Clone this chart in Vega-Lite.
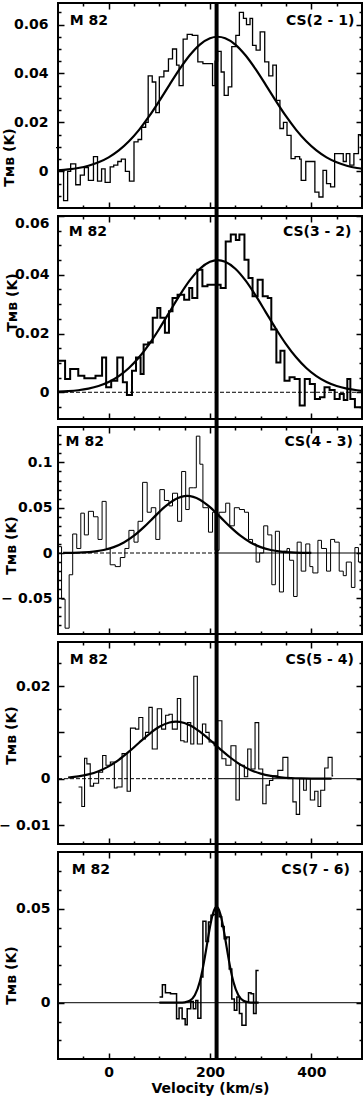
{
  "$schema": "https://vega.github.io/schema/vega-lite/v6.json",
  "padding": {"left": -3, "top": 0, "right": 0, "bottom": 0},
  "spacing": 8,
  "bounds": "flush",
  "config": {
    "font": "DejaVu Sans",
    "view": {"stroke": "black", "strokeWidth": 2},
    "axis": {"domain": false, "grid": false, "minExtent": 0, "tickColor": "black", "tickWidth": 1.5, "labelFont": "DejaVu Sans", "labelFontWeight": "bold", "labelFontSize": 14, "labelColor": "black", "titleFont": "DejaVu Sans", "titleFontWeight": "bold", "titleFontSize": 14, "titleColor": "black"},
    "line": {"color": "black"},
    "rule": {"color": "black"},
    "text": {"color": "black"}
  },
  "datasets": {
    "h1": [{"v":-104,"T":0.0097},{"v":-100,"T":0.0},{"v":-89,"T":-0.012},{"v":-81,"T":0.0},{"v":-75,"T":0.003},{"v":-65,"T":-0.0055},{"v":-56,"T":-0.0016},{"v":-48,"T":0.0015},{"v":-40,"T":-0.0037},{"v":-30,"T":0.006},{"v":-22,"T":-0.004},{"v":-14,"T":0.001},{"v":-7,"T":-0.0045},{"v":3,"T":0.0018},{"v":10,"T":0.0025},{"v":18,"T":0.004},{"v":25,"T":0.005},{"v":33,"T":0.0},{"v":41,"T":-0.004},{"v":50,"T":0.012},{"v":58,"T":0.013},{"v":65,"T":0.018},{"v":73,"T":0.02},{"v":78,"T":0.039},{"v":86,"T":0.0365},{"v":93,"T":0.024},{"v":100,"T":0.0386},{"v":109,"T":0.041},{"v":118,"T":0.046},{"v":126,"T":0.05},{"v":134,"T":0.0434},{"v":139,"T":0.035},{"v":147,"T":0.054},{"v":155,"T":0.056},{"v":165,"T":0.0556},{"v":176,"T":0.0447},{"v":186,"T":0.044},{"v":197,"T":0.044},{"v":205,"T":0.035},{"v":210,"T":0.045},{"v":215,"T":0.049},{"v":222,"T":0.0406},{"v":228,"T":0.031},{"v":236,"T":0.0345},{"v":243,"T":0.051},{"v":251,"T":0.0556},{"v":258,"T":0.065},{"v":266,"T":0.0625},{"v":272,"T":0.06},{"v":279,"T":0.0625},{"v":284,"T":0.0515},{"v":291,"T":0.0495},{"v":299,"T":0.057},{"v":308,"T":0.0447},{"v":316,"T":0.039},{"v":324,"T":0.0434},{"v":331,"T":0.029},{"v":338,"T":0.0175},{"v":345,"T":0.02},{"v":352,"T":0.0147},{"v":360,"T":0.0052},{"v":368,"T":0.006},{"v":377,"T":0.005},{"v":380,"T":-0.0037},{"v":389,"T":0.004},{"v":397,"T":0.004},{"v":407,"T":-0.0085},{"v":415,"T":-0.0105},{"v":423,"T":0.0004},{"v":430,"T":-0.005},{"v":438,"T":-0.0064},{"v":446,"T":0.0072},{"v":453,"T":0.0072},{"v":463,"T":0.004},{"v":469,"T":0.0072},{"v":476,"T":0.0025},{"v":484,"T":0.0072},{"v":493,"T":0.015},{"v":500,"T":0.015}],
    "g1": [{"v":-100,"T":0.000425},{"v":-80,"T":0.000773},{"v":-60,"T":0.00135},{"v":-40,"T":0.00227},{"v":-20,"T":0.00367},{"v":0,"T":0.0057},{"v":20,"T":0.00853},{"v":40,"T":0.01226},{"v":60,"T":0.01694},{"v":80,"T":0.02251},{"v":100,"T":0.02877},{"v":120,"T":0.03534},{"v":140,"T":0.04174},{"v":160,"T":0.04742},{"v":180,"T":0.0518},{"v":200,"T":0.0544},{"v":215,"T":0.055},{"v":230,"T":0.0544},{"v":250,"T":0.0518},{"v":270,"T":0.04742},{"v":290,"T":0.04174},{"v":310,"T":0.03534},{"v":330,"T":0.02877},{"v":350,"T":0.02251},{"v":370,"T":0.01694},{"v":390,"T":0.01226},{"v":410,"T":0.00853},{"v":430,"T":0.0057},{"v":450,"T":0.00367},{"v":470,"T":0.00227},{"v":490,"T":0.00135},{"v":500,"T":0.00103}],
    "h2": [{"v":-101,"T":0.0107},{"v":-86,"T":0.0045},{"v":-76,"T":0.0079},{"v":-60,"T":0.0056},{"v":-48,"T":0.0048},{"v":-26,"T":0.0056},{"v":-13,"T":0.0118},{"v":-5,"T":0.0017},{"v":5,"T":0.0039},{"v":17,"T":0.0118},{"v":28,"T":0.0034},{"v":36,"T":-0.0009},{"v":46,"T":0.0073},{"v":54,"T":0.0118},{"v":63,"T":0.0062},{"v":69,"T":0.0163},{"v":78,"T":0.0169},{"v":87,"T":0.0254},{"v":96,"T":0.0287},{"v":102,"T":0.0254},{"v":111,"T":0.0203},{"v":119,"T":0.0276},{"v":126,"T":0.0321},{"v":136,"T":0.0332},{"v":149,"T":0.0315},{"v":159,"T":0.0355},{"v":165,"T":0.0321},{"v":175,"T":0.0417},{"v":185,"T":0.0361},{"v":195,"T":0.0366},{"v":210,"T":0.0366},{"v":221,"T":0.0355},{"v":231,"T":0.0513},{"v":241,"T":0.0537},{"v":251,"T":0.0518},{"v":258,"T":0.0537},{"v":268,"T":0.0451},{"v":276,"T":0.0389},{"v":284,"T":0.0327},{"v":294,"T":0.0383},{"v":304,"T":0.0327},{"v":314,"T":0.0321},{"v":321,"T":0.0214},{"v":331,"T":0.0101},{"v":339,"T":0.0141},{"v":347,"T":0.0039},{"v":357,"T":0.0051},{"v":367,"T":0.0045},{"v":377,"T":-0.0045},{"v":387,"T":0.0045},{"v":397,"T":0.0028},{"v":407,"T":-0.0023},{"v":417,"T":-0.0017},{"v":426,"T":0.0017},{"v":436,"T":0.0008},{"v":446,"T":-0.0023},{"v":456,"T":-0.0006},{"v":464,"T":-0.0026},{"v":471,"T":0.0045},{"v":477,"T":-0.0023},{"v":486,"T":-0.0051},{"v":500,"T":-0.0051}],
    "g2": [{"v":-100,"T":0.000185},{"v":-80,"T":0.000363},{"v":-60,"T":0.000682},{"v":-40,"T":0.00123},{"v":-20,"T":0.00211},{"v":0,"T":0.00347},{"v":20,"T":0.00547},{"v":40,"T":0.00825},{"v":60,"T":0.01189},{"v":80,"T":0.01639},{"v":100,"T":0.02163},{"v":120,"T":0.02729},{"v":140,"T":0.03295},{"v":160,"T":0.03806},{"v":180,"T":0.04205},{"v":200,"T":0.04444},{"v":215,"T":0.045},{"v":230,"T":0.04444},{"v":250,"T":0.04205},{"v":270,"T":0.03806},{"v":290,"T":0.03295},{"v":310,"T":0.02729},{"v":330,"T":0.02163},{"v":350,"T":0.01639},{"v":370,"T":0.01189},{"v":390,"T":0.00825},{"v":410,"T":0.00547},{"v":430,"T":0.00347},{"v":450,"T":0.00211},{"v":470,"T":0.00123},{"v":490,"T":0.000682},{"v":500,"T":0.0005}],
    "h3": [{"v":-101,"T":0.007},{"v":-93,"T":-0.051},{"v":-86,"T":-0.083},{"v":-78,"T":-0.024},{"v":-71,"T":0.021},{"v":-63,"T":0.005},{"v":-55,"T":0.044},{"v":-48,"T":0.02},{"v":-40,"T":0.046},{"v":-30,"T":0.04},{"v":-21,"T":0.015},{"v":-13,"T":0.057},{"v":-5,"T":0.005},{"v":3,"T":-0.013},{"v":13,"T":-0.015},{"v":23,"T":-0.005},{"v":32,"T":0.005},{"v":40,"T":0.025},{"v":50,"T":0.012},{"v":58,"T":0.035},{"v":67,"T":0.078},{"v":76,"T":0.045},{"v":84,"T":0.05},{"v":93,"T":0.015},{"v":101,"T":0.07},{"v":110,"T":0.058},{"v":119,"T":0.052},{"v":126,"T":0.066},{"v":136,"T":0.035},{"v":144,"T":0.09},{"v":152,"T":0.048},{"v":159,"T":0.072},{"v":167,"T":0.072},{"v":173,"T":0.129},{"v":180,"T":0.098},{"v":186,"T":0.05},{"v":197,"T":0.023},{"v":205,"T":0.045},{"v":210,"T":0.003},{"v":218,"T":0.045},{"v":231,"T":0.055},{"v":239,"T":0.03},{"v":248,"T":0.05},{"v":258,"T":0.048},{"v":268,"T":0.045},{"v":276,"T":0.015},{"v":284,"T":0.01},{"v":291,"T":-0.01},{"v":298,"T":0.0},{"v":306,"T":0.03},{"v":314,"T":0.02},{"v":322,"T":-0.035},{"v":329,"T":0.024},{"v":337,"T":-0.043},{"v":345,"T":0.002},{"v":352,"T":0.005},{"v":357,"T":-0.008},{"v":365,"T":-0.048},{"v":372,"T":0.012},{"v":380,"T":-0.02},{"v":389,"T":0.01},{"v":397,"T":-0.015},{"v":403,"T":-0.022},{"v":413,"T":0.014},{"v":420,"T":0.005},{"v":430,"T":-0.02},{"v":438,"T":0.015},{"v":446,"T":0.012},{"v":455,"T":-0.02},{"v":463,"T":-0.025},{"v":469,"T":-0.01},{"v":479,"T":-0.038},{"v":486,"T":0.006},{"v":493,"T":-0.01},{"v":500,"T":-0.01}],
    "g3": [{"v":-90,"T":0.0001},{"v":-70,"T":0.00026},{"v":-50,"T":0.00067},{"v":-30,"T":0.00156},{"v":-10,"T":0.00332},{"v":10,"T":0.00649},{"v":30,"T":0.01163},{"v":50,"T":0.01913},{"v":70,"T":0.02884},{"v":90,"T":0.0399},{"v":110,"T":0.05061},{"v":130,"T":0.05888},{"v":155,"T":0.063},{"v":180,"T":0.05888},{"v":200,"T":0.05061},{"v":220,"T":0.0399},{"v":240,"T":0.02884},{"v":260,"T":0.01913},{"v":280,"T":0.01163},{"v":300,"T":0.00649},{"v":320,"T":0.00332},{"v":340,"T":0.00156},{"v":360,"T":0.00067},{"v":380,"T":0.00026},{"v":400,"T":0.0001}],
    "h4": [{"v":-59.5,"T":-0.0018},{"v":-53,"T":-0.006},{"v":-47.6,"T":0.0044},{"v":-43,"T":0.0032},{"v":-36.4,"T":-0.0016},{"v":-29.8,"T":-0.001},{"v":-19.8,"T":0.0014},{"v":-11.9,"T":0.005},{"v":-5.3,"T":0.0029},{"v":3.3,"T":0.0036},{"v":11.2,"T":-0.002},{"v":16.5,"T":-0.0018},{"v":26.4,"T":0.0054},{"v":36.4,"T":-0.0027},{"v":43,"T":0.0109},{"v":52.9,"T":0.0107},{"v":59.5,"T":0.0132},{"v":67.4,"T":0.0086},{"v":72.7,"T":0.01},{"v":79.3,"T":0.0154},{"v":86,"T":0.0064},{"v":95.9,"T":0.0151},{"v":104.5,"T":0.0107},{"v":112.4,"T":0.0137},{"v":119,"T":0.0139},{"v":125.6,"T":0.0107},{"v":135.5,"T":0.0173},{"v":142.1,"T":0.0082},{"v":148.8,"T":0.0079},{"v":155.4,"T":0.0121},{"v":162,"T":0.0075},{"v":168,"T":0.0221},{"v":175,"T":0.0075},{"v":185.1,"T":0.0118},{"v":191.7,"T":0.01},{"v":198.3,"T":0.0079},{"v":208.3,"T":0.0071},{"v":214.9,"T":0.0125},{"v":223.5,"T":0.0043},{"v":231.4,"T":0.0029},{"v":241.3,"T":0.0071},{"v":251.2,"T":-0.0046},{"v":257.9,"T":0.0029},{"v":267.8,"T":0.0004},{"v":274.4,"T":0.0064},{"v":281,"T":0.0021},{"v":288.9,"T":0.0121},{"v":296.2,"T":0.0021},{"v":304.1,"T":-0.0054},{"v":310.7,"T":-0.0014},{"v":317.4,"T":-0.0004},{"v":324,"T":0.0006},{"v":333.9,"T":0.0018},{"v":343.8,"T":0.0046},{"v":353.7,"T":0.0},{"v":363.6,"T":-0.005},{"v":370.2,"T":-0.0077},{"v":376.9,"T":0.0},{"v":384.8,"T":-0.0025},{"v":390.1,"T":0.0},{"v":398,"T":-0.0046},{"v":406.6,"T":-0.0027},{"v":413.2,"T":-0.006},{"v":418.5,"T":-0.0025},{"v":426.4,"T":0.0023},{"v":433.1,"T":0.0046},{"v":441,"T":0.0006},{"v":443,"T":0.0006}],
    "g4": [{"v":-80,"T":0.000242},{"v":-60,"T":0.00049},{"v":-40,"T":0.00092},{"v":-20,"T":0.00162},{"v":0,"T":0.00266},{"v":20,"T":0.00407},{"v":40,"T":0.00582},{"v":60,"T":0.00776},{"v":80,"T":0.00964},{"v":100,"T":0.01119},{"v":120,"T":0.01212},{"v":133,"T":0.0123},{"v":140,"T":0.01225},{"v":160,"T":0.01155},{"v":180,"T":0.01016},{"v":200,"T":0.00834},{"v":220,"T":0.00639},{"v":240,"T":0.00457},{"v":260,"T":0.00304},{"v":280,"T":0.00189},{"v":300,"T":0.0011},{"v":320,"T":0.0006},{"v":340,"T":0.0003},{"v":360,"T":0.00014},{"v":380,"T":0.00006},{"v":400,"T":0.00002},{"v":440,"T":0.0}],
    "h5": [{"v":100.5,"T":0.003},{"v":106,"T":0.0096},{"v":112,"T":0.0053},{"v":122,"T":0.0048},{"v":134,"T":-0.0085},{"v":139,"T":-0.0028},{"v":145,"T":-0.0085},{"v":151,"T":-0.0117},{"v":155,"T":-0.0032},{"v":162,"T":0.0007},{"v":167,"T":-0.0032},{"v":172,"T":0.0012},{"v":176,"T":-0.0082},{"v":182,"T":0.0137},{"v":186,"T":0.0433},{"v":192,"T":0.0326},{"v":197,"T":0.043},{"v":202,"T":0.0465},{"v":206,"T":0.047},{"v":212,"T":0.0493},{"v":218,"T":0.0457},{"v":223,"T":0.0406},{"v":228,"T":0.034},{"v":233,"T":0.035},{"v":238,"T":0.018},{"v":243,"T":0.002},{"v":248,"T":-0.004},{"v":253,"T":0.003},{"v":258,"T":-0.0058},{"v":263,"T":-0.012},{"v":271,"T":0.0004},{"v":276,"T":0.0053},{"v":281,"T":0.0048},{"v":286,"T":-0.0058},{"v":291,"T":0.0172},{"v":296,"T":0.0172}],
    "g5": [{"v":100,"T":0.0},{"v":140,"T":0.00004},{"v":150,"T":0.00021},{"v":160,"T":0.00104},{"v":170,"T":0.00394},{"v":180,"T":0.01129},{"v":185,"T":0.01722},{"v":190,"T":0.02451},{"v":195,"T":0.03256},{"v":200,"T":0.04036},{"v":205,"T":0.04668},{"v":210,"T":0.05037},{"v":213,"T":0.051},{"v":216,"T":0.05037},{"v":221,"T":0.04668},{"v":226,"T":0.04036},{"v":231,"T":0.03256},{"v":236,"T":0.02451},{"v":241,"T":0.01722},{"v":246,"T":0.01129},{"v":256,"T":0.00394},{"v":266,"T":0.00104},{"v":276,"T":0.00021},{"v":286,"T":0.00004},{"v":296,"T":0.0}]
  },
  "vconcat": [
    {
      "width": 304, "height": 205,
      "resolve": {"axis": {"x": "independent", "y": "independent"}},
      "layer": [
        {"data": {"name": "h1"}, "mark": {"type": "line", "interpolate": "step-after", "strokeWidth": 1.3},
         "encoding": {
           "x": {"field": "v", "type": "quantitative", "scale": {"domain": [-100, 500], "nice": false, "zero": false}, "axis": {"orient": "bottom", "values": [0, 200, 400], "labels": false, "tickSize": -6, "title": null}},
           "y": {"field": "T", "type": "quantitative", "scale": {"domain": [-0.015, 0.0688], "nice": false, "zero": false}, "axis": {"orient": "left", "values": [0, 0.02, 0.04, 0.06], "ticks": false, "format": "~g", "labelPadding": 10, "title": "Tᴍʙ (K)", "titleAngle": 270, "titleBaseline": "bottom", "titleAlign": "center", "titleX": -42, "titleY": 154}}}},
        {"data": {"name": "g1"}, "mark": {"type": "line", "interpolate": "monotone", "strokeWidth": 2.2},
         "encoding": {
           "x": {"field": "v", "type": "quantitative", "scale": {"domain": [-100, 500], "nice": false, "zero": false}, "axis": {"orient": "bottom", "values": [-50, 50, 100, 150, 250, 300, 350, 450], "labels": false, "tickSize": -3, "title": null}},
           "y": {"field": "T", "type": "quantitative", "scale": {"domain": [-0.015, 0.0688], "nice": false, "zero": false}, "axis": {"orient": "left", "values": [0, 0.02, 0.04, 0.06], "labels": false, "tickSize": -6, "title": null}}}},
        {"data": {"values": [{}]}, "mark": {"type": "rule", "strokeWidth": 4, "clip": false},
         "encoding": {
           "x": {"datum": 213, "type": "quantitative", "scale": {"domain": [-100, 500], "nice": false, "zero": false}, "axis": {"orient": "top", "values": [0, 200, 400], "labels": false, "tickSize": -6, "title": null}},
           "y": {"datum": 0.0688, "type": "quantitative", "scale": {"domain": [-0.015, 0.0688], "nice": false, "zero": false}, "axis": {"orient": "left", "values": [-0.01, -0.005, 0.005, 0.01, 0.015, 0.025, 0.03, 0.035, 0.045, 0.05, 0.055, 0.065], "labels": false, "tickSize": -3, "title": null}},
           "y2": {"datum": -0.0183}}},
        {"data": {"values": [{}]}, "mark": {"type": "text", "align": "left", "baseline": "middle", "fontSize": 14, "fontWeight": "bold"},
         "encoding": {
           "x": {"datum": -77, "type": "quantitative", "scale": {"domain": [-100, 500], "nice": false, "zero": false}, "axis": {"orient": "top", "values": [-50, 50, 100, 150, 250, 300, 350, 450], "labels": false, "tickSize": -3, "title": null}},
           "y": {"datum": 0.0614, "type": "quantitative", "scale": {"domain": [-0.015, 0.0688], "nice": false, "zero": false}, "axis": {"orient": "right", "values": [0, 0.02, 0.04, 0.06], "labels": false, "tickSize": -6, "title": null}},
           "text": {"value": "M 82"}}},
        {"data": {"values": [{}]}, "mark": {"type": "text", "align": "right", "baseline": "middle", "fontSize": 14, "fontWeight": "bold"},
         "encoding": {
           "x": {"datum": 485, "type": "quantitative", "scale": {"domain": [-100, 500], "nice": false, "zero": false}, "axis": null},
           "y": {"datum": 0.0614, "type": "quantitative", "scale": {"domain": [-0.015, 0.0688], "nice": false, "zero": false}, "axis": {"orient": "right", "values": [-0.01, -0.005, 0.005, 0.01, 0.015, 0.025, 0.03, 0.035, 0.045, 0.05, 0.055, 0.065], "labels": false, "tickSize": -3, "title": null}},
           "text": {"value": "CS(2 - 1)"}}}
      ]
    },
    {
      "width": 304, "height": 203,
      "resolve": {"axis": {"x": "independent", "y": "independent"}},
      "layer": [
        {"data": {"name": "h2"}, "mark": {"type": "line", "interpolate": "step-after", "strokeWidth": 2},
         "encoding": {
           "x": {"field": "v", "type": "quantitative", "scale": {"domain": [-100, 500], "nice": false, "zero": false}, "axis": {"orient": "bottom", "values": [0, 200, 400], "labels": false, "tickSize": -6, "title": null}},
           "y": {"field": "T", "type": "quantitative", "scale": {"domain": [-0.0091, 0.06], "nice": false, "zero": false}, "axis": {"orient": "left", "values": [0, 0.02, 0.04, 0.06], "ticks": false, "format": "~g", "labelFlush": true, "labelPadding": 9, "title": "Tᴍʙ (K)", "titleAngle": 270, "titleBaseline": "bottom", "titleAlign": "center", "titleX": -39, "titleY": 86}}}},
        {"data": {"name": "g2"}, "mark": {"type": "line", "interpolate": "monotone", "strokeWidth": 2.2},
         "encoding": {
           "x": {"field": "v", "type": "quantitative", "scale": {"domain": [-100, 500], "nice": false, "zero": false}, "axis": {"orient": "bottom", "values": [-50, 50, 100, 150, 250, 300, 350, 450], "labels": false, "tickSize": -3, "title": null}},
           "y": {"field": "T", "type": "quantitative", "scale": {"domain": [-0.0091, 0.06], "nice": false, "zero": false}, "axis": {"orient": "left", "values": [0, 0.02, 0.04, 0.06], "labels": false, "tickSize": -6, "title": null}}}},
        {"data": {"values": [{}]}, "mark": {"type": "rule", "strokeWidth": 1, "strokeDash": [4, 2]},
         "encoding": {
           "x": {"datum": -100, "type": "quantitative", "scale": {"domain": [-100, 500], "nice": false, "zero": false}, "axis": null},
           "x2": {"datum": 500},
           "y": {"datum": 0, "type": "quantitative", "scale": {"domain": [-0.0091, 0.06], "nice": false, "zero": false}, "axis": null}}},
        {"data": {"values": [{}]}, "mark": {"type": "rule", "strokeWidth": 4, "clip": false},
         "encoding": {
           "x": {"datum": 213, "type": "quantitative", "scale": {"domain": [-100, 500], "nice": false, "zero": false}, "axis": {"orient": "top", "values": [0, 200, 400], "labels": false, "tickSize": -6, "title": null}},
           "y": {"datum": 0.06, "type": "quantitative", "scale": {"domain": [-0.0091, 0.06], "nice": false, "zero": false}, "axis": {"orient": "left", "values": [-0.005, 0.005, 0.01, 0.015, 0.025, 0.03, 0.035, 0.045, 0.05, 0.055], "labels": false, "tickSize": -3, "title": null}},
           "y2": {"datum": -0.0118}}},
        {"data": {"values": [{}]}, "mark": {"type": "text", "align": "left", "baseline": "middle", "fontSize": 14, "fontWeight": "bold"},
         "encoding": {
           "x": {"datum": -79, "type": "quantitative", "scale": {"domain": [-100, 500], "nice": false, "zero": false}, "axis": {"orient": "top", "values": [-50, 50, 100, 150, 250, 300, 350, 450], "labels": false, "tickSize": -3, "title": null}},
           "y": {"datum": 0.0546, "type": "quantitative", "scale": {"domain": [-0.0091, 0.06], "nice": false, "zero": false}, "axis": {"orient": "right", "values": [0, 0.02, 0.04, 0.06], "labels": false, "tickSize": -6, "title": null}},
           "text": {"value": "M 82"}}},
        {"data": {"values": [{}]}, "mark": {"type": "text", "align": "right", "baseline": "middle", "fontSize": 14, "fontWeight": "bold"},
         "encoding": {
           "x": {"datum": 479, "type": "quantitative", "scale": {"domain": [-100, 500], "nice": false, "zero": false}, "axis": null},
           "y": {"datum": 0.0546, "type": "quantitative", "scale": {"domain": [-0.0091, 0.06], "nice": false, "zero": false}, "axis": {"orient": "right", "values": [-0.005, 0.005, 0.01, 0.015, 0.025, 0.03, 0.035, 0.045, 0.05, 0.055], "labels": false, "tickSize": -3, "title": null}},
           "text": {"value": "CS(3 - 2)"}}}
      ]
    },
    {
      "width": 304, "height": 207,
      "resolve": {"axis": {"x": "independent", "y": "independent"}},
      "layer": [
        {"data": {"name": "h3"}, "mark": {"type": "line", "interpolate": "step-after", "strokeWidth": 1},
         "encoding": {
           "x": {"field": "v", "type": "quantitative", "scale": {"domain": [-100, 500], "nice": false, "zero": false}, "axis": {"orient": "bottom", "values": [0, 200, 400], "labels": false, "tickSize": -6, "title": null}},
           "y": {"field": "T", "type": "quantitative", "scale": {"domain": [-0.0894, 0.1391], "nice": false, "zero": false}, "axis": {"orient": "left", "values": [-0.05, 0, 0.05, 0.1], "ticks": false, "format": "~g", "labelExpr": "replace(datum.label, '−', '− ')", "labelPadding": 6, "title": "Tᴍʙ (K)", "titleAngle": 270, "titleBaseline": "bottom", "titleAlign": "center", "titleX": -40, "titleY": 118}}}},
        {"data": {"name": "g3"}, "mark": {"type": "line", "interpolate": "monotone", "strokeWidth": 2.2},
         "encoding": {
           "x": {"field": "v", "type": "quantitative", "scale": {"domain": [-100, 500], "nice": false, "zero": false}, "axis": {"orient": "bottom", "values": [-50, 50, 100, 150, 250, 300, 350, 450], "labels": false, "tickSize": -3, "title": null}},
           "y": {"field": "T", "type": "quantitative", "scale": {"domain": [-0.0894, 0.1391], "nice": false, "zero": false}, "axis": {"orient": "left", "values": [-0.05, 0, 0.05, 0.1], "labels": false, "tickSize": -6, "title": null}}}},
        {"data": {"values": [{}]}, "mark": {"type": "rule", "strokeWidth": 1, "strokeDash": [4, 2]},
         "encoding": {
           "x": {"datum": -100, "type": "quantitative", "scale": {"domain": [-100, 500], "nice": false, "zero": false}, "axis": null},
           "x2": {"datum": 213},
           "y": {"datum": 0, "type": "quantitative", "scale": {"domain": [-0.0894, 0.1391], "nice": false, "zero": false}, "axis": null}}},
        {"data": {"values": [{}]}, "mark": {"type": "rule", "strokeWidth": 1},
         "encoding": {
           "x": {"datum": 213, "type": "quantitative", "scale": {"domain": [-100, 500], "nice": false, "zero": false}, "axis": null},
           "x2": {"datum": 500},
           "y": {"datum": 0, "type": "quantitative", "scale": {"domain": [-0.0894, 0.1391], "nice": false, "zero": false}, "axis": null}}},
        {"data": {"values": [{}]}, "mark": {"type": "rule", "strokeWidth": 4, "clip": false},
         "encoding": {
           "x": {"datum": 213, "type": "quantitative", "scale": {"domain": [-100, 500], "nice": false, "zero": false}, "axis": {"orient": "top", "values": [0, 200, 400], "labels": false, "tickSize": -6, "title": null}},
           "y": {"datum": 0.1391, "type": "quantitative", "scale": {"domain": [-0.0894, 0.1391], "nice": false, "zero": false}, "axis": {"orient": "left", "values": [-0.08, -0.07, -0.06, -0.04, -0.03, -0.02, -0.01, 0.01, 0.02, 0.03, 0.04, 0.06, 0.07, 0.08, 0.09, 0.11, 0.12, 0.13], "labels": false, "tickSize": -3, "title": null}},
           "y2": {"datum": -0.0982}}},
        {"data": {"values": [{}]}, "mark": {"type": "text", "align": "left", "baseline": "middle", "fontSize": 14, "fontWeight": "bold"},
         "encoding": {
           "x": {"datum": -85, "type": "quantitative", "scale": {"domain": [-100, 500], "nice": false, "zero": false}, "axis": {"orient": "top", "values": [-50, 50, 100, 150, 250, 300, 350, 450], "labels": false, "tickSize": -3, "title": null}},
           "y": {"datum": 0.1225, "type": "quantitative", "scale": {"domain": [-0.0894, 0.1391], "nice": false, "zero": false}, "axis": {"orient": "right", "values": [-0.05, 0, 0.05, 0.1], "labels": false, "tickSize": -6, "title": null}},
           "text": {"value": "M 82"}}},
        {"data": {"values": [{}]}, "mark": {"type": "text", "align": "right", "baseline": "middle", "fontSize": 14, "fontWeight": "bold"},
         "encoding": {
           "x": {"datum": 482, "type": "quantitative", "scale": {"domain": [-100, 500], "nice": false, "zero": false}, "axis": null},
           "y": {"datum": 0.1225, "type": "quantitative", "scale": {"domain": [-0.0894, 0.1391], "nice": false, "zero": false}, "axis": {"orient": "right", "values": [-0.08, -0.07, -0.06, -0.04, -0.03, -0.02, -0.01, 0.01, 0.02, 0.03, 0.04, 0.06, 0.07, 0.08, 0.09, 0.11, 0.12, 0.13], "labels": false, "tickSize": -3, "title": null}},
           "text": {"value": "CS(4 - 3)"}}}
      ]
    },
    {
      "width": 304, "height": 202,
      "resolve": {"axis": {"x": "independent", "y": "independent"}},
      "layer": [
        {"data": {"name": "h4"}, "mark": {"type": "line", "interpolate": "step-after", "strokeWidth": 1.1},
         "encoding": {
           "x": {"field": "v", "type": "quantitative", "scale": {"domain": [-100, 500], "nice": false, "zero": false}, "axis": {"orient": "bottom", "values": [0, 200, 400], "labels": false, "tickSize": -6, "title": null}},
           "y": {"field": "T", "type": "quantitative", "scale": {"domain": [-0.0141, 0.0295], "nice": false, "zero": false}, "axis": {"orient": "left", "values": [-0.01, 0, 0.02], "ticks": false, "format": "~g", "labelExpr": "replace(datum.label, '−', '− ')", "labelPadding": 8, "title": "Tᴍʙ (K)", "titleAngle": 270, "titleBaseline": "bottom", "titleAlign": "center", "titleX": -40, "titleY": 93}}}},
        {"data": {"name": "g4"}, "mark": {"type": "line", "interpolate": "monotone", "strokeWidth": 2.2},
         "encoding": {
           "x": {"field": "v", "type": "quantitative", "scale": {"domain": [-100, 500], "nice": false, "zero": false}, "axis": {"orient": "bottom", "values": [-50, 50, 100, 150, 250, 300, 350, 450], "labels": false, "tickSize": -3, "title": null}},
           "y": {"field": "T", "type": "quantitative", "scale": {"domain": [-0.0141, 0.0295], "nice": false, "zero": false}, "axis": {"orient": "left", "values": [-0.01, 0, 0.01, 0.02], "labels": false, "tickSize": -6, "title": null}}}},
        {"data": {"values": [{}]}, "mark": {"type": "rule", "strokeWidth": 1, "strokeDash": [4, 2]},
         "encoding": {
           "x": {"datum": -100, "type": "quantitative", "scale": {"domain": [-100, 500], "nice": false, "zero": false}, "axis": null},
           "x2": {"datum": 213},
           "y": {"datum": 0, "type": "quantitative", "scale": {"domain": [-0.0141, 0.0295], "nice": false, "zero": false}, "axis": null}}},
        {"data": {"values": [{}]}, "mark": {"type": "rule", "strokeWidth": 1},
         "encoding": {
           "x": {"datum": 213, "type": "quantitative", "scale": {"domain": [-100, 500], "nice": false, "zero": false}, "axis": null},
           "x2": {"datum": 500},
           "y": {"datum": 0, "type": "quantitative", "scale": {"domain": [-0.0141, 0.0295], "nice": false, "zero": false}, "axis": null}}},
        {"data": {"values": [{}]}, "mark": {"type": "rule", "strokeWidth": 4, "clip": false},
         "encoding": {
           "x": {"datum": 213, "type": "quantitative", "scale": {"domain": [-100, 500], "nice": false, "zero": false}, "axis": {"orient": "top", "values": [0, 200, 400], "labels": false, "tickSize": -6, "title": null}},
           "y": {"datum": 0.0295, "type": "quantitative", "scale": {"domain": [-0.0141, 0.0295], "nice": false, "zero": false}, "axis": {"orient": "left", "values": [-0.005, 0.005, 0.015, 0.025], "labels": false, "tickSize": -3, "title": null}},
           "y2": {"datum": -0.0158}}},
        {"data": {"values": [{}]}, "mark": {"type": "text", "align": "left", "baseline": "middle", "fontSize": 14, "fontWeight": "bold"},
         "encoding": {
           "x": {"datum": -77, "type": "quantitative", "scale": {"domain": [-100, 500], "nice": false, "zero": false}, "axis": {"orient": "top", "values": [-50, 50, 100, 150, 250, 300, 350, 450], "labels": false, "tickSize": -3, "title": null}},
           "y": {"datum": 0.0256, "type": "quantitative", "scale": {"domain": [-0.0141, 0.0295], "nice": false, "zero": false}, "axis": {"orient": "right", "values": [-0.01, 0, 0.01, 0.02], "labels": false, "tickSize": -6, "title": null}},
           "text": {"value": "M 82"}}},
        {"data": {"values": [{}]}, "mark": {"type": "text", "align": "right", "baseline": "middle", "fontSize": 14, "fontWeight": "bold"},
         "encoding": {
           "x": {"datum": 484, "type": "quantitative", "scale": {"domain": [-100, 500], "nice": false, "zero": false}, "axis": null},
           "y": {"datum": 0.0256, "type": "quantitative", "scale": {"domain": [-0.0141, 0.0295], "nice": false, "zero": false}, "axis": {"orient": "right", "values": [-0.005, 0.005, 0.015, 0.025], "labels": false, "tickSize": -3, "title": null}},
           "text": {"value": "CS(5 - 4)"}}}
      ]
    },
    {
      "width": 304, "height": 207,
      "resolve": {"axis": {"x": "independent", "y": "independent"}},
      "layer": [
        {"data": {"name": "h5"}, "mark": {"type": "line", "interpolate": "step-after", "strokeWidth": 1.5},
         "encoding": {
           "x": {"field": "v", "type": "quantitative", "scale": {"domain": [-100, 500], "nice": false, "zero": false}, "axis": {"orient": "bottom", "values": [0, 200, 400], "ticks": false, "format": "d", "labelPadding": 6, "title": "Velocity (km/s)", "titlePadding": 2}},
           "y": {"field": "T", "type": "quantitative", "scale": {"domain": [-0.02995, 0.0802], "nice": false, "zero": false}, "axis": {"orient": "left", "values": [0, 0.05], "ticks": false, "format": "~g", "labelPadding": 8, "title": "Tᴍʙ (K)", "titleAngle": 270, "titleBaseline": "bottom", "titleAlign": "center", "titleX": -40, "titleY": 123}}}},
        {"data": {"name": "g5"}, "mark": {"type": "line", "interpolate": "monotone", "strokeWidth": 2.2},
         "encoding": {
           "x": {"field": "v", "type": "quantitative", "scale": {"domain": [-100, 500], "nice": false, "zero": false}, "axis": {"orient": "bottom", "values": [0, 200, 400], "labels": false, "tickSize": -6, "title": null}},
           "y": {"field": "T", "type": "quantitative", "scale": {"domain": [-0.02995, 0.0802], "nice": false, "zero": false}, "axis": {"orient": "left", "values": [0, 0.05], "labels": false, "tickSize": -6, "title": null}}}},
        {"data": {"values": [{}]}, "mark": {"type": "rule", "strokeWidth": 4, "clip": false},
         "encoding": {
           "x": {"datum": 213, "type": "quantitative", "scale": {"domain": [-100, 500], "nice": false, "zero": false}, "axis": {"orient": "bottom", "values": [-50, 50, 100, 150, 250, 300, 350, 450], "labels": false, "tickSize": -3, "title": null}},
           "y": {"datum": 0.0802, "type": "quantitative", "scale": {"domain": [-0.02995, 0.0802], "nice": false, "zero": false}, "axis": {"orient": "left", "values": [-0.02, -0.01, 0.01, 0.02, 0.03, 0.04, 0.06, 0.07], "labels": false, "tickSize": -3, "title": null}},
           "y2": {"datum": -0.02995}}},
        {"data": {"values": [{}]}, "mark": {"type": "rule", "strokeWidth": 1},
         "encoding": {
           "x": {"datum": -100, "type": "quantitative", "scale": {"domain": [-100, 500], "nice": false, "zero": false}, "axis": {"orient": "top", "values": [0, 200, 400], "labels": false, "tickSize": -6, "title": null}},
           "x2": {"datum": 500},
           "y": {"datum": 0, "type": "quantitative", "scale": {"domain": [-0.02995, 0.0802], "nice": false, "zero": false}, "axis": {"orient": "right", "values": [0, 0.05], "labels": false, "tickSize": -6, "title": null}}}},
        {"data": {"values": [{}]}, "mark": {"type": "text", "align": "left", "baseline": "middle", "fontSize": 14, "fontWeight": "bold"},
         "encoding": {
           "x": {"datum": -73, "type": "quantitative", "scale": {"domain": [-100, 500], "nice": false, "zero": false}, "axis": {"orient": "top", "values": [-50, 50, 100, 150, 250, 300, 350, 450], "labels": false, "tickSize": -3, "title": null}},
           "y": {"datum": 0.0706, "type": "quantitative", "scale": {"domain": [-0.02995, 0.0802], "nice": false, "zero": false}, "axis": {"orient": "right", "values": [-0.02, -0.01, 0.01, 0.02, 0.03, 0.04, 0.06, 0.07], "labels": false, "tickSize": -3, "title": null}},
           "text": {"value": "M 82"}}},
        {"data": {"values": [{}]}, "mark": {"type": "text", "align": "right", "baseline": "middle", "fontSize": 14, "fontWeight": "bold"},
         "encoding": {
           "x": {"datum": 476, "type": "quantitative", "scale": {"domain": [-100, 500], "nice": false, "zero": false}, "axis": null},
           "y": {"datum": 0.0706, "type": "quantitative", "scale": {"domain": [-0.02995, 0.0802], "nice": false, "zero": false}, "axis": null},
           "text": {"value": "CS(7 - 6)"}}}
      ]
    }
  ]
}
